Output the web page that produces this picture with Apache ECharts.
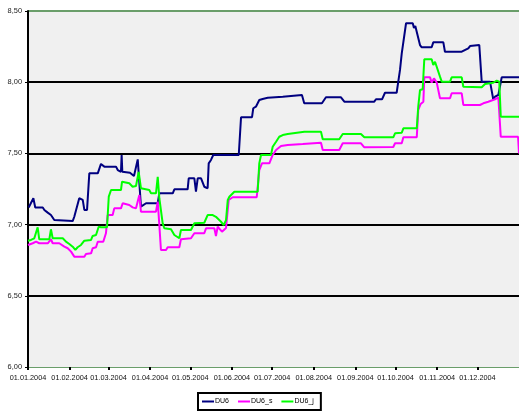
<!DOCTYPE html>
<html>
<head>
<meta charset="utf-8">
<title>DU6</title>
<script src="https://cdn.jsdelivr.net/npm/echarts@6/dist/echarts.min.js"></script>
<style>
  html, body { margin: 0; padding: 0; background: #fff; }
  #chart1 { width: 519px; height: 412px; }
</style>
</head>
<body>
<div id="chart1"></div>
<script>
// tick labels on the x axis (days counted from 01.01.2004)
var monthStarts = [0, 31, 60, 91, 121, 152, 182, 213, 244, 274, 305, 335];
var monthLabels = ['01.01.2004', '01.02.2004', '01.03.2004', '01.04.2004', '01.05.2004', '01.06.2004',
    '01.07.2004', '01.08.2004', '01.09.2004', '01.10.2004', '01.11.2004', '01.12.2004'];

// DU6
var du6Days = [0.5, 4, 5.4, 11, 12.2, 14.7, 17.1, 19.6, 20.9, 33.3, 34.5, 38.2, 40.8, 42, 44, 45.7, 52, 54.4, 56.9, 65.6,
    66.9, 69.3, 69.8, 70.3, 76, 79, 81.8, 84.2, 85.5, 88, 96.7, 97.9, 107.9, 109.1, 119, 119.8, 124, 125.2, 126.5, 129,
    131.4, 133.9, 134.7, 136.4, 138.1, 157.1, 158.8, 167, 167.9, 169.9, 172.4, 174.9, 178.7, 189.9, 191, 204.2, 205.9,
    219.1, 222.1, 233.3, 235.8, 258.1, 259.4, 263.9, 266.1, 274.8, 277.3, 278.6, 279.8, 281.8, 286.8, 287.7, 288.7,
    292.2, 293.5, 300.9, 302.1, 309.6, 310.8, 323.3, 324.5, 328.2, 329.5, 336.4, 338.2, 344.4, 346.8, 348.1, 350.6,
    353.1, 366];
var du6Vals = [7.12, 7.185, 7.12, 7.12, 7.103, 7.084, 7.067, 7.032, 7.025, 7.025, 7.055, 7.185, 7.173, 7.103, 7.103,
    7.36, 7.36, 7.426, 7.407, 7.407, 7.383, 7.371, 7.489, 7.371, 7.364, 7.341, 7.458, 7.126, 7.114, 7.15, 7.15, 7.22,
    7.22, 7.248, 7.248, 7.325, 7.325, 7.231, 7.325, 7.325, 7.266, 7.255, 7.43, 7.454, 7.489, 7.489, 7.754, 7.754, 7.817,
    7.828, 7.875, 7.882, 7.891, 7.898, 7.91, 7.91, 7.852, 7.852, 7.894, 7.894, 7.863, 7.863, 7.88, 7.88, 7.926, 7.926,
    8.086, 8.203, 8.207, 8.414, 8.414, 8.38, 8.395, 8.261, 8.245, 8.245, 8.28, 8.28, 8.214, 8.214, 8.226, 8.238, 8.254,
    8.261, 8.004, 8.004, 7.88, 7.898, 7.91, 8.034, 8.034];

// DU6_s
var du6sDays = [0, 3.5, 6, 8.4, 14.7, 17.1, 18.4, 23.3, 27.1, 29.6, 32.1, 34.5, 42, 43.2, 47, 48.2, 50.7, 52, 56.1, 58.1,
    59.4, 63.1, 64.3, 69.3, 70.6, 75.5, 78, 80.5, 83, 84.2, 95.4, 96.7, 97.9, 99.1, 102.9, 104.1, 112.8, 114, 121.5, 124,
    131.4, 132.7, 138.9, 140.1, 141.4, 144.6, 147.6, 149.6, 152.6, 170.5, 172.4, 174.4, 179.9, 182.4, 184.9, 188.6,
    193.6, 204.8, 206, 218.4, 219.7, 232, 234.6, 248.2, 250.7, 272.3, 273.6, 278.6, 279.8, 289.8, 290.9, 292.7, 294.7,
    295.4, 299.7, 300.9, 302.6, 304.7, 307.1, 314.6, 315.8, 323.3, 324.5, 336.9, 339.4, 343.1, 348.1, 350.6, 352.4,
    365.3, 366];
var du6sVals = [6.857, 6.869, 6.88, 6.869, 6.869, 6.897, 6.869, 6.869, 6.845, 6.834, 6.81, 6.775, 6.775, 6.794, 6.798,
    6.834, 6.841, 6.88, 6.88, 6.939, 7.067, 7.067, 7.114, 7.114, 7.15, 7.138, 7.121, 7.114, 7.208, 7.091, 7.091, 7.161,
    6.997, 6.822, 6.822, 6.841, 6.841, 6.897, 6.904, 6.939, 6.939, 6.974, 6.974, 6.92, 6.985, 6.95, 6.976, 7.173, 7.192,
    7.192, 7.383, 7.43, 7.43, 7.489, 7.524, 7.552, 7.559, 7.566, 7.575, 7.575, 7.524, 7.524, 7.571, 7.571, 7.543, 7.545,
    7.571, 7.571, 7.613, 7.613, 7.805, 7.847, 7.863, 8.034, 8.034, 7.997, 8.027, 7.997, 7.887, 7.887, 7.922, 7.922,
    7.84, 7.84, 7.852, 7.863, 7.88, 7.894, 7.617, 7.617, 7.5];

// DU6_j
var du6jDays = [0, 2.2, 4.7, 7.2, 8.4, 15.9, 17.1, 18.4, 25.9, 28.3, 30.8, 33.3, 35.3, 37, 39.5, 42, 47, 48.2, 50.7, 52.7,
    54.4, 58.9, 60.2, 61.9, 69.3, 70.1, 75.5, 78, 80.5, 82.5, 84.2, 85.5, 90.4, 91.7, 95.4, 96.7, 97.9, 100.4, 101.6,
    106.6, 109.1, 112.8, 114, 121.5, 124, 131.4, 133.9, 137.7, 140.1, 141.4, 143.9, 145.9, 147.6, 148.9, 150.1, 153.8,
    171.2, 172.4, 173.7, 181.1, 182.4, 184.9, 187.3, 189.9, 193.6, 206, 218.4, 219.7, 232, 234.6, 248.2, 250.7, 272.3,
    273.6, 278.6, 279.8, 289.8, 290.9, 292.2, 294.2, 295.4, 300.9, 302.1, 303.4, 304.7, 307.1, 308.4, 314.6, 315.8,
    323.3, 324.5, 338.2, 340.7, 346.8, 349.4, 351.3, 352.4, 366];
var du6jVals = [6.887, 6.892, 6.904, 6.981, 6.897, 6.897, 6.967, 6.904, 6.904, 6.88, 6.864, 6.845, 6.822, 6.841, 6.857,
    6.887, 6.892, 6.92, 6.927, 6.985, 6.981, 6.981, 7.196, 7.243, 7.243, 7.301, 7.29, 7.266, 7.271, 7.37, 7.255, 7.243,
    7.243, 7.22, 7.22, 7.336, 7.185, 7.009, 6.974, 6.967, 6.927, 6.904, 6.962, 6.962, 7.009, 7.013, 7.067, 7.067, 7.055,
    7.067, 7.02, 6.997, 7.032, 7.173, 7.196, 7.231, 7.231, 7.43, 7.489, 7.489, 7.547, 7.582, 7.617, 7.629, 7.636, 7.652,
    7.652, 7.599, 7.599, 7.636, 7.636, 7.613, 7.613, 7.641, 7.645, 7.676, 7.676, 7.828, 7.945, 7.95, 8.161, 8.161, 8.121,
    8.144, 8.133, 8.039, 8.004, 8.004, 8.034, 8.034, 7.968, 7.964, 7.987, 7.996, 8.011, 8.004, 7.758, 7.758];

function pairs(days, vals) {
    var out = [];
    for (var i = 0; i < days.length; i++) out.push([days[i], vals[i]]);
    return out;
}

var mychart1 = echarts.init(document.getElementById('chart1'));
var fontName = 'Liberation Sans, Arial, sans-serif';

var option = {
    animation: false,
    backgroundColor: '#ffffff',
    grid: {
        left: 28, right: 0, top: 11, bottom: 45,
        show: true, backgroundColor: '#f0f0f0', borderWidth: 0
    },
    legend: {
        left: 198, top: 393,
        padding: [5, 7, 5, 4],
        borderColor: '#000', borderWidth: 2,
        backgroundColor: '#fff',
        itemWidth: 12, itemHeight: 2, itemGap: 9,
        icon: 'rect',
        textStyle: { fontSize: 7, color: '#000', fontFamily: fontName, padding: [0, 0, 0, -4] },
        data: ['DU6', 'DU6_s', 'DU6_j']
    },
    xAxis: {
        type: 'value',
        min: 0, max: 366,
        axisLine: { lineStyle: { color: '#6a9e6a', width: 1 } },
        axisTick: { show: true, length: 3, customValues: monthStarts, lineStyle: { color: '#000', width: 2 } },
        axisLabel: {
            customValues: monthStarts,
            margin: 7, fontSize: 7.3, color: '#111', fontFamily: fontName,
            formatter: function (v) { return monthLabels[monthStarts.indexOf(v)]; }
        },
        splitLine: { show: false }
    },
    yAxis: {
        type: 'value',
        min: 6, max: 8.5, interval: 0.5,
        axisLine: { show: true, lineStyle: { color: '#000', width: 2 } },
        axisTick: { show: true, length: 3, lineStyle: { color: '#000', width: 1 } },
        axisLabel: {
            margin: 6, fontSize: 7.4, color: '#222', fontFamily: fontName,
            formatter: function (v) { return v.toFixed(2).replace('.', ','); }
        },
        splitLine: {
            show: true, showMinLine: false,
            lineStyle: { color: ['#000', '#000', '#000', '#000', '#6a9e6a'], width: 2 }
        }
    },
    series: [
        {
            name: 'DU6', type: 'line', showSymbol: false,
            itemStyle: { color: '#000080' },
            lineStyle: { color: '#000080', width: 2 },
            data: pairs(du6Days, du6Vals)
        },
        {
            name: 'DU6_s', type: 'line', showSymbol: false,
            itemStyle: { color: '#ff00ff' },
            lineStyle: { color: '#ff00ff', width: 2 },
            data: pairs(du6sDays, du6sVals)
        },
        {
            name: 'DU6_j', type: 'line', showSymbol: false,
            itemStyle: { color: '#00ff00' },
            lineStyle: { color: '#00ff00', width: 2 },
            data: pairs(du6jDays, du6jVals)
        }
    ]
};

mychart1.setOption(option);
</script>
</body>
</html>
